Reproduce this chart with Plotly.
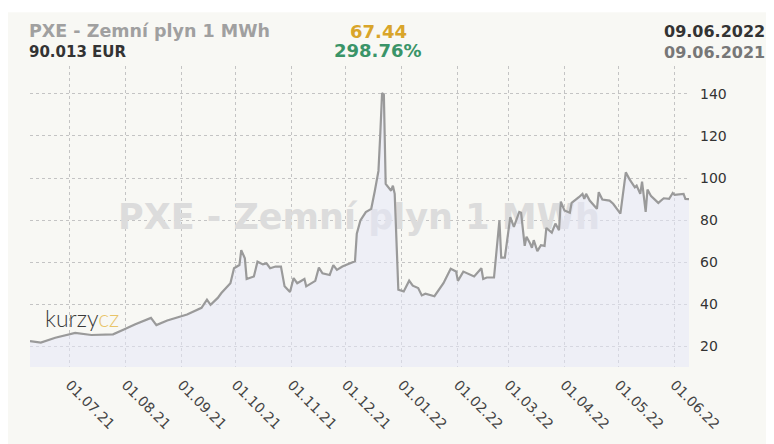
import plotly.graph_objects as go

dates = [
    "2021-06-09", "2021-06-15", "2021-06-23", "2021-07-04", "2021-07-13", "2021-07-25",
    "2021-07-31", "2021-08-06", "2021-08-15", "2021-08-18", "2021-08-24", "2021-09-04",
    "2021-09-12", "2021-09-15", "2021-09-17", "2021-09-21", "2021-09-23", "2021-09-28",
    "2021-09-30", "2021-10-03", "2021-10-04", "2021-10-06", "2021-10-07", "2021-10-11",
    "2021-10-13", "2021-10-16", "2021-10-18", "2021-10-20", "2021-10-23", "2021-10-26",
    "2021-10-28", "2021-10-31", "2021-11-02", "2021-11-04", "2021-11-08", "2021-11-09",
    "2021-11-14", "2021-11-16", "2021-11-18", "2021-11-22", "2021-11-24", "2021-11-26",
    "2021-11-29", "2021-12-01", "2021-12-06", "2021-12-07", "2021-12-08", "2021-12-09",
    "2021-12-12", "2021-12-15", "2021-12-17", "2021-12-19", "2021-12-20", "2021-12-21",
    "2021-12-22", "2021-12-23", "2021-12-26", "2021-12-27", "2021-12-28", "2021-12-30",
    "2022-01-02", "2022-01-05", "2022-01-07", "2022-01-10", "2022-01-12", "2022-01-14",
    "2022-01-19", "2022-01-24", "2022-01-28", "2022-01-31", "2022-02-01", "2022-02-04",
    "2022-02-10", "2022-02-13", "2022-02-14", "2022-02-15", "2022-02-17", "2022-02-21",
    "2022-02-24", "2022-02-25", "2022-02-27", "2022-03-02", "2022-03-04", "2022-03-07",
    "2022-03-08", "2022-03-10", "2022-03-11", "2022-03-13", "2022-03-14", "2022-03-15",
    "2022-03-17", "2022-03-19", "2022-03-21", "2022-03-22", "2022-03-25", "2022-03-27",
    "2022-03-29", "2022-03-30", "2022-03-31", "2022-04-01", "2022-04-04", "2022-04-05",
    "2022-04-09", "2022-04-11", "2022-04-12", "2022-04-13", "2022-04-15", "2022-04-19",
    "2022-04-20", "2022-04-22", "2022-04-26", "2022-04-28", "2022-05-02", "2022-05-05",
    "2022-05-07", "2022-05-10", "2022-05-11", "2022-05-13", "2022-05-14", "2022-05-16",
    "2022-05-17", "2022-05-19", "2022-05-23", "2022-05-26", "2022-05-29", "2022-05-31",
    "2022-06-01", "2022-06-06", "2022-06-07", "2022-06-09",
]
prices = [
    22.57, 21.9, 24.2, 26.5, 25.5, 25.8,
    28.1, 30.5, 33.6, 30.2, 32.4, 35.2,
    38.4, 42.3, 39.8, 43.1, 45.4, 50.1,
    57.2, 58.7, 65.8, 61.9, 52.1, 53.3,
    60.3, 59.0, 59.5, 57.2, 58.0, 58.0,
    48.6, 45.9, 52.5, 50.1, 52.1, 48.6,
    51.2, 57.5, 54.8, 54.0, 58.7, 56.4,
    58.0, 58.7, 60.5, 73.6, 76.8, 79.9,
    83.8, 85.4, 94.0, 103.4, 120.7, 140.3,
    139.5, 97.2, 94.0, 96.4, 92.5, 47.0,
    46.2, 51.3, 48.9, 47.8, 44.3, 45.1,
    43.9, 50.1, 56.9, 55.6, 51.2, 55.6,
    53.3, 56.4, 57.2, 52.1, 52.8, 52.8,
    79.9, 62.2, 62.2, 81.5, 76.8, 83.9,
    83.5, 67.8, 72.1, 68.9, 66.9, 70.5,
    65.3, 68.1, 67.8, 76.3, 74.1, 78.4,
    75.2, 88.8, 86.2, 84.6, 83.5, 88.2,
    90.9, 92.5, 90.1, 92.5, 89.3, 85.4,
    93.3, 89.8, 89.3, 87.8, 83.1, 102.7,
    99.5, 95.6, 96.4, 92.5, 98.3, 83.9,
    94.5, 91.4, 88.2, 90.4, 90.1, 92.9,
    92.0, 92.5, 90.1, 90.013,
]

tick_dates = ["2021-07-01", "2021-08-01", "2021-09-01", "2021-10-01", "2021-11-01",
              "2021-12-01", "2022-01-01", "2022-02-01", "2022-03-01", "2022-04-01",
              "2022-05-01", "2022-06-01"]
tick_labels = ["01.07.21", "01.08.21", "01.09.21", "01.10.21", "01.11.21", "01.12.21",
               "01.01.22", "01.02.22", "01.03.22", "01.04.22", "01.05.22", "01.06.22"]
y_ticks = [20, 40, 60, 80, 100, 120, 140]

title_text = "PXE - Zemní plyn 1 MWh"
price_text = "90.013 EUR"
change_text = "67.44"
pct_text = "298.76%"
date_to = "09.06.2022"
date_from = "09.06.2021"

# the page has an 8px body margin; figure covers the rest of the 774x444 window
OFF = 8
W, H = 774 - OFF, 444 - OFF
ML, MR, MT, MB = 30 - OFF, 85, 66 - OFF, 75
PW, PH = W - ML - MR, H - MT - MB


def px(x):
    # x given in window pixels
    return (x - OFF - ML) / PW


def py(y):
    # y given in window pixels
    return (H - MB - (y - OFF)) / PH


BG = "#f8f8f4"
FONT = "DejaVu Sans"

fig = go.Figure()

# watermark (drawn first so the fill lies over it)
fig.add_trace(go.Scatter(
    x=["2021-12-08 06:00"], y=[80.0], mode="text", text=[title_text],
    textposition="middle center",
    textfont=dict(family=FONT, size=35, color="#dcdcdc", weight="bold"),
    hoverinfo="skip", showlegend=False,
))

fig.add_trace(go.Scatter(
    x=dates, y=prices, mode="lines",
    line=dict(color="#9a9a9a", width=2.2),
    fill="tozeroy", fillcolor="rgba(230,232,247,0.55)",
    hoverinfo="skip", showlegend=False,
))

grid = dict(showgrid=True, gridcolor="#c4c4c4", gridwidth=1, griddash="3px,3px",
            zeroline=False, showline=False)

fig.update_xaxes(
    range=["2021-06-09", "2022-06-09"], tickvals=tick_dates, ticktext=tick_labels,
    tickangle=45, ticks="", ticklabelstandoff=6,
    tickfont=dict(family=FONT, size=14, color="#444444"), **grid,
)
fig.update_yaxes(
    range=[10.3, 153.2], tickvals=y_ticks, side="right", ticks="",
    ticklabelstandoff=10,
    tickfont=dict(family=FONT, size=14, color="#333333"), **grid,
)

annotations = [
    dict(text=title_text, x=px(27), y=py(31), xanchor="left", yanchor="middle",
         font=dict(family=FONT, size=17.5, color="#a0a0a0", weight="bold")),
    dict(text=price_text, x=px(27), y=py(52), xanchor="left", yanchor="middle",
         font=dict(family=FONT, size=15, color="#333333", weight="bold")),
    dict(text=change_text, x=px(378), y=py(31), xanchor="center", yanchor="middle",
         font=dict(family=FONT, size=18, color="#d9a52a", weight="bold")),
    dict(text=pct_text, x=px(378), y=py(50), xanchor="center", yanchor="middle",
         font=dict(family=FONT, size=18, color="#3a9468", weight="bold")),
    dict(text=date_to, x=px(767), y=py(31), xanchor="right", yanchor="middle",
         font=dict(family=FONT, size=16, color="#333333", weight="bold")),
    dict(text=date_from, x=px(767), y=py(52), xanchor="right", yanchor="middle",
         font=dict(family=FONT, size=16, color="#777777", weight="bold")),
    dict(text="kurzy<span style='color:#e8c468'>cz</span>", x=px(43), y=py(320),
         xanchor="left", yanchor="middle",
         font=dict(family="Lato", size=23, color="#3a3a3a", weight=300)),
]
for a in annotations:
    a.update(xref="paper", yref="paper", showarrow=False)

fig.update_layout(
    width=W, height=H,
    margin=dict(l=ML, r=MR, t=MT, b=MB, pad=0),
    paper_bgcolor="#ffffff", plot_bgcolor=BG,
    annotations=annotations,
    shapes=[dict(type="rect", xref="paper", yref="paper", layer="below",
                 x0=px(OFF - 2), x1=px(780), y0=py(460), y1=py(12),
                 fillcolor=BG, line=dict(width=0))],
    showlegend=False,
)

fig.write_html("out.html", config={"displayModeBar": False})
